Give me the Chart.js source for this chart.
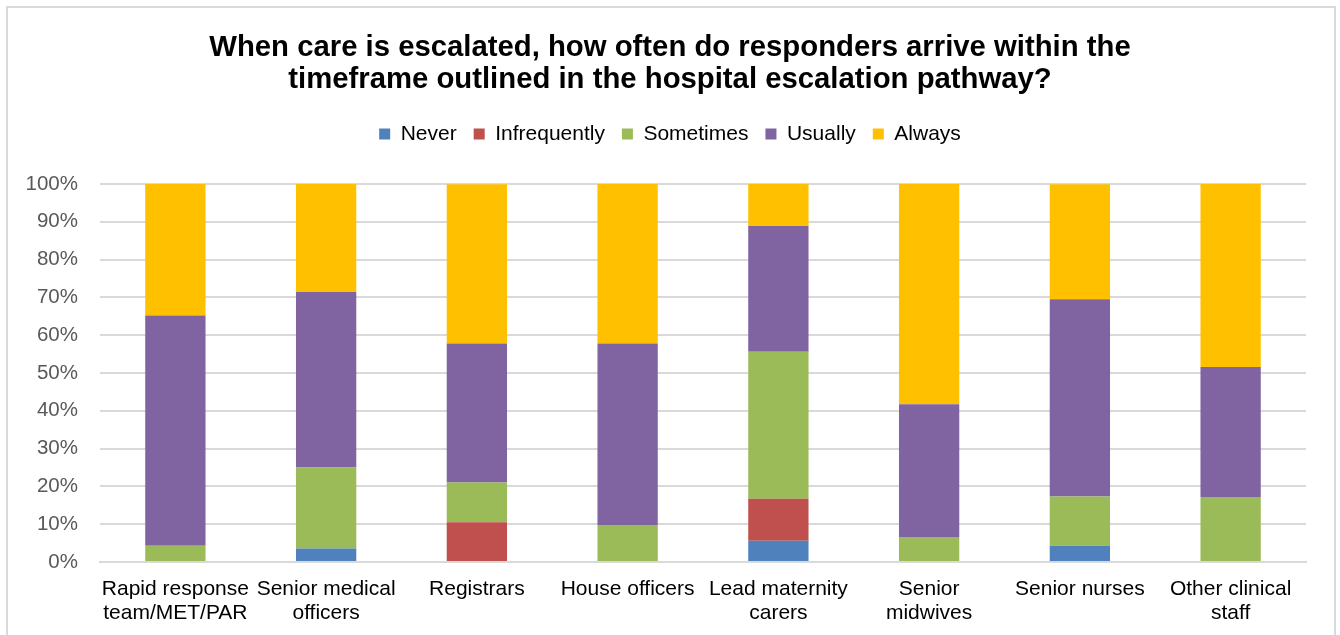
<!DOCTYPE html>
<html>
<head>
<meta charset="utf-8">
<script src="https://cdn.jsdelivr.net/npm/chart.js@4.4.1/dist/chart.umd.min.js"></script>
<style>
  html, body { margin: 0; padding: 0; background: #fff; }
  #wrap { position: relative; width: 1340px; height: 635px; overflow: hidden; }
  #frame { position: absolute; left: 6px; top: 6px; width: 1330px; height: 640px; border: 2px solid #d9d9d9; box-sizing: border-box; }
  canvas { position: absolute; left: 0; top: 0; }
</style>
</head>
<body>
<div id="wrap">
  <div id="frame"></div>
  <canvas id="chart" width="1340" height="635"></canvas>
</div>
<script>
// Kategorier (x-akse), med linjeskift som i originalen
const categories = [
  ["Rapid response", "team/MET/PAR"],
  ["Senior medical", "officers"],
  "Registrars",
  "House officers",
  ["Lead maternity", "carers"],
  ["Senior", "midwives"],
  "Senior nurses",
  ["Other clinical", "staff"],
];

// Andel (%) per svaralternativ
const never = [0, 3.6, 0, 0, 5.6, 0, 4.3, 0];
const infrequently = [0, 0, 10.5, 0, 11.1, 0, 0, 0];
const sometimes = [4.3, 21.4, 10.5, 9.8, 38.9, 6.6, 13.0, 17.2];
const usually = [60.9, 46.4, 36.8, 48.0, 33.3, 35.1, 52.2, 34.4];
const always = [34.8, 28.6, 42.1, 42.2, 11.1, 58.3, 30.4, 48.4];

const yTicks = [0, 10, 20, 30, 40, 50, 60, 70, 80, 90, 100];

const COLORS = {
  never: "#4F81BD",
  infrequently: "#C0504D",
  sometimes: "#9BBB59",
  usually: "#8064A2",
  always: "#FFC000",
};

const FONT = 'Arial, "Liberation Sans", sans-serif';

function ds(label, data, color) {
  return {
    label,
    data,
    backgroundColor: color,
    borderWidth: 0,
    categoryPercentage: 1,
    barPercentage: 0.4,
  };
}

// Ekstra luft under forklaringen
const legendGap = {
  id: "legendGap",
  beforeInit(chart) {
    const fit = chart.legend.fit;
    chart.legend.fit = function () {
      fit.bind(chart.legend)();
      this.height += 29.5;
    };
  },
};

new Chart(document.getElementById("chart").getContext("2d"), {
  type: "bar",
  data: {
    labels: categories,
    datasets: [
      ds("Never", never, COLORS.never),
      ds("Infrequently", infrequently, COLORS.infrequently),
      ds("Sometimes", sometimes, COLORS.sometimes),
      ds("Usually", usually, COLORS.usually),
      ds("Always", always, COLORS.always),
    ],
  },
  plugins: [legendGap],
  options: {
    responsive: false,
    animation: false,
    layout: { padding: { top: 10, left: 0, right: 0, bottom: 12 } },
    plugins: {
      title: {
        display: true,
        text: [
          "When care is escalated, how often do responders arrive within the",
          "timeframe outlined in the hospital escalation pathway?",
        ],
        color: "#000",
        font: { family: FONT, size: 29.3, weight: "bold", lineHeight: 1.1 },
        padding: { top: 22, bottom: 10 },
      },
      legend: {
        position: "top",
        labels: {
          color: "#000",
          font: { family: FONT, size: 21 },
          boxWidth: 11,
          boxHeight: 11,
          padding: 17,
        },
      },
      tooltip: { enabled: false },
    },
    scales: {
      x: {
        stacked: true,
        grid: { display: false, drawTicks: false },
        border: { color: "#d9d9d9", width: 2 },
        afterFit(axis) {
          axis.height = 61;
        },
        ticks: {
          color: "#000",
          font: { family: FONT, size: 21, lineHeight: 1.15 },
          maxRotation: 0,
          autoSkip: false,
          padding: 15,
        },
      },
      y: {
        stacked: true,
        min: 0,
        max: 100,
        afterBuildTicks(axis) {
          axis.ticks = yTicks.map((v) => ({ value: v }));
        },
        afterFit(axis) {
          axis.width = 100;
        },
        grid: { color: "#d9d9d9", lineWidth: 2, drawTicks: false },
        border: { display: false },
        ticks: {
          color: "#595959",
          font: { family: FONT, size: 20.5 },
          padding: 22,
          callback: (v) => v + "%",
        },
      },
      // tom akse til høyre, holder plottet borte fra rammen
      yRight: {
        position: "right",
        display: true,
        grid: { display: false, drawTicks: false },
        border: { display: false },
        ticks: { display: false },
        afterFit(axis) {
          axis.width = 34;
        },
      },
    },
  },
});
</script>
</body>
</html>
